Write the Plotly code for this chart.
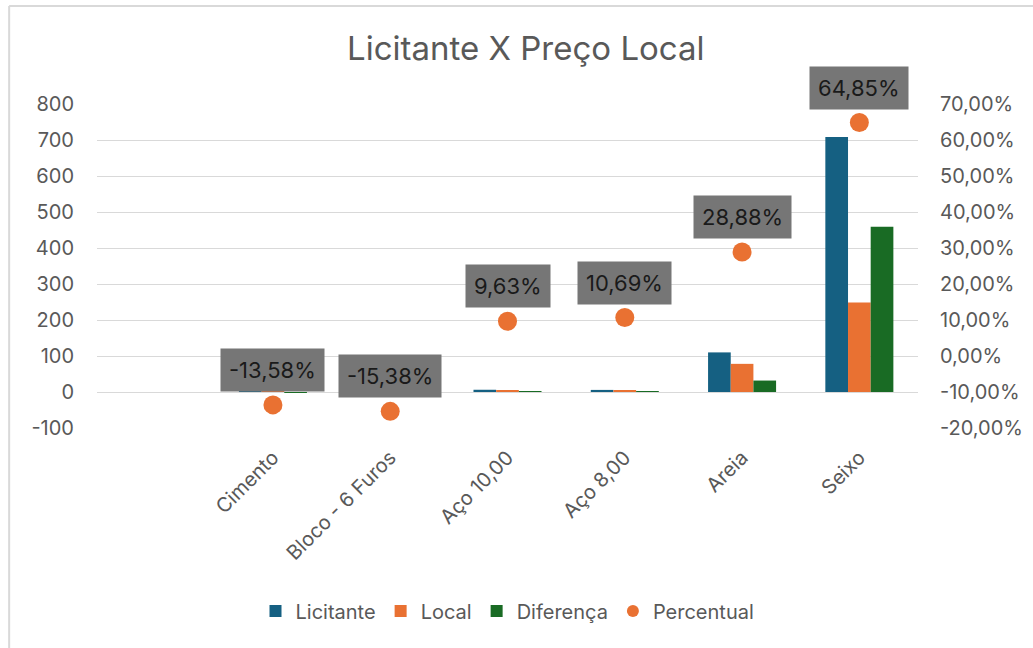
import plotly.graph_objects as go

categories = [" ", "Cimento", "Bloco - 6 Furos", "Aço 10,00", "Aço 8,00", "Areia", "Seixo"]
licitante = [None, 0.70, 0.65, 6.23, 5.80, 110.0, 708.0]
local = [None, 0.795, 0.75, 5.63, 5.18, 78.2, 248.9]
diferenca = [None, -0.095, -0.10, 0.60, 0.62, 31.8, 459.1]
percentual = [None, -13.58, -15.38, 9.63, 10.69, 28.88, 64.85]
pct_labels = [None, "-13,58%", "-15,38%", "9,63%", "10,69%", "28,88%", "64,85%"]

left_ticks = [-100, 0, 100, 200, 300, 400, 500, 600, 700, 800]
left_tick_text = ["-100", "0", "100", "200", "300", "400", "500", "600", "700", "800"]
right_ticks = [-20, -10, 0, 10, 20, 30, 40, 50, 60, 70]
right_tick_text = ["-20,00%", "-10,00%", "0,00%", "10,00%", "20,00%", "30,00%",
                   "40,00%", "50,00%", "60,00%", "70,00%"]

FONT = "Inter"
GREY = "#595959"

fig = go.Figure()
fig.add_trace(go.Bar(x=categories, y=licitante, name="Licitante",
                     marker=dict(color="#156082", line=dict(width=0))))
fig.add_trace(go.Bar(x=categories, y=local, name="Local",
                     marker=dict(color="#E97132", line=dict(width=0))))
fig.add_trace(go.Bar(x=categories, y=diferenca, name="Diferença",
                     marker=dict(color="#196B24", line=dict(width=0))))
fig.add_trace(go.Scatter(x=categories, y=percentual, name="Percentual", yaxis="y2",
                         mode="markers",
                         marker=dict(color="#E97132", size=19, line=dict(width=0))))

for c, p, t in zip(categories, percentual, pct_labels):
    if p is None:
        continue
    fig.add_annotation(x=c, y=p, xref="x", yref="y2", text=t, showarrow=False,
                       yanchor="bottom", yshift=13,
                       bgcolor="#767676", borderpad=8,
                       font=dict(family=FONT, size=22, color="#1a1a1a"))

fig.update_layout(
    width=1033, height=648,
    margin=dict(l=97, r=115, t=104, b=220, autoexpand=False),
    paper_bgcolor="white", plot_bgcolor="white",
    font=dict(family=FONT, color=GREY, size=19),
    title=dict(text="Licitante X Preço Local", x=0.509, xanchor="center",
               y=0.925, yanchor="middle",
               font=dict(family=FONT, size=33, color=GREY)),
    barmode="group", bargap=0.42, bargroupgap=0,
    xaxis=dict(type="category", tickangle=-45, showgrid=False, zeroline=False,
               showline=False, ticks="", ticklabelstandoff=13, automargin=False,
               tickfont=dict(size=20, color=GREY)),
    yaxis=dict(range=[-100, 800], tickvals=left_ticks, ticktext=left_tick_text,
               showgrid=True, gridcolor="#D9D9D9", gridwidth=1.3, zeroline=False,
               ticks="", ticklabelstandoff=22, automargin=False,
               tickfont=dict(size=20, color=GREY)),
    yaxis2=dict(range=[-20, 70], tickvals=right_ticks, ticktext=right_tick_text,
                overlaying="y", side="right", showgrid=False, zeroline=False,
                ticks="", ticklabelstandoff=21, automargin=False,
                tickfont=dict(size=20, color=GREY)),
    legend=dict(orientation="h", x=0.5, xanchor="center", y=-0.565, yanchor="middle",
                font=dict(size=20, color=GREY), itemsizing="constant",
                traceorder="normal"),
    showlegend=True,
)

fig.add_shape(type="line", xref="paper", yref="paper", x0=-0.107, x1=-0.107,
              y0=1.3025, y1=-0.8, line=dict(color="#D9D9D9", width=2))
fig.add_shape(type="line", xref="paper", yref="paper", x0=-0.107, x1=1.3,
              y0=1.3025, y1=1.3025, line=dict(color="#D9D9D9", width=2))

fig.write_html("out.html", config={"displayModeBar": False},
               post_script="document.body.style.margin='0px';")
